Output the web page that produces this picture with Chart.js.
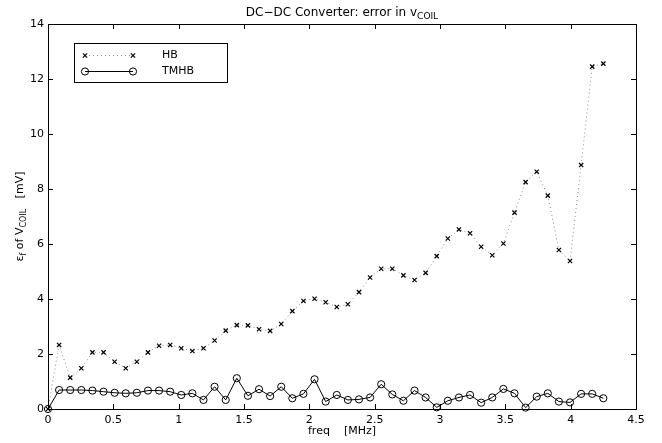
<!DOCTYPE html>
<html>
<head>
<meta charset="utf-8">
<script src="https://cdn.jsdelivr.net/npm/chart.js@4.4.0/dist/chart.umd.min.js"></script>
<style>
  html, body { margin: 0; padding: 0; background: #fff; }
</style>
</head>
<body>
<canvas id="graph" width="662" height="443"></canvas>
<script>
// freq axis in MHz, errors in mV
const freq = [0, 0.085, 0.17, 0.255, 0.34, 0.425, 0.51, 0.595, 0.68, 0.765,
  0.85, 0.935, 1.02, 1.105, 1.19, 1.275, 1.36, 1.445, 1.53, 1.615,
  1.7, 1.785, 1.87, 1.955, 2.04, 2.125, 2.21, 2.295, 2.38, 2.465,
  2.55, 2.635, 2.72, 2.805, 2.89, 2.975, 3.06, 3.145, 3.23, 3.315,
  3.4, 3.485, 3.57, 3.655, 3.74, 3.825, 3.91, 3.995, 4.08, 4.165, 4.25];

const hb = [0, 2.33, 1.14, 1.48, 2.06, 2.06, 1.72, 1.48, 1.72, 2.06,
  2.30, 2.33, 2.21, 2.11, 2.21, 2.49, 2.85, 3.05, 3.04, 2.90,
  2.84, 3.09, 3.56, 3.93, 4.01, 3.88, 3.71, 3.81, 4.25, 4.78,
  5.10, 5.10, 4.86, 4.69, 4.95, 5.56, 6.20, 6.53, 6.39, 5.90,
  5.59, 6.02, 7.14, 8.25, 8.63, 7.76, 5.78, 5.38, 8.87, 12.45, 12.56];

const tmhb = [0, 0.69, 0.69, 0.69, 0.67, 0.63, 0.59, 0.57, 0.59, 0.67,
  0.67, 0.63, 0.51, 0.57, 0.33, 0.81, 0.33, 1.12, 0.48, 0.72,
  0.47, 0.81, 0.39, 0.55, 1.08, 0.27, 0.51, 0.33, 0.35, 0.42,
  0.90, 0.53, 0.30, 0.67, 0.42, 0.06, 0.30, 0.42, 0.51, 0.23,
  0.42, 0.73, 0.57, 0.05, 0.45, 0.57, 0.27, 0.24, 0.55, 0.55, 0.39];

const seriesNames = ['HB', 'TMHB'];
const xTicks = [0, 0.5, 1, 1.5, 2, 2.5, 3, 3.5, 4, 4.5];
const yTicks = [0, 2, 4, 6, 8, 10, 12, 14];

const FONT = '"DejaVu Sans", "Liberation Sans", Arial, sans-serif';

function toPoints(ys) {
  return freq.map((f, i) => ({ x: f, y: ys[i] }));
}

// draws text made of pieces [text, size, dy]
function drawPieces(ctx, pieces, x, y, align) {
  let w = 0;
  pieces.forEach(p => {
    ctx.font = p[1] + 'px ' + FONT;
    w += ctx.measureText(p[0]).width;
  });
  let cx = align === 'center' ? x - w / 2 : x;
  pieces.forEach(p => {
    ctx.font = p[1] + 'px ' + FONT;
    ctx.fillText(p[0], cx, y + p[2]);
    cx += ctx.measureText(p[0]).width;
  });
}

const matlabAxes = {
  id: 'matlabAxes',
  afterDraw(chart) {
    const { ctx, chartArea: a } = chart;
    const xs = chart.scales.x, ys = chart.scales.y;
    ctx.save();
    ctx.strokeStyle = '#000';
    ctx.lineWidth = 1;
    ctx.setLineDash([]);
    ctx.strokeRect(Math.round(a.left) + 0.5, Math.round(a.top) + 0.5,
      Math.round(a.right - a.left), Math.round(a.bottom - a.top));

    // ticks pointing inside, on all four sides
    ctx.beginPath();
    xTicks.forEach(v => {
      const px = Math.round(xs.getPixelForValue(v)) + 0.5;
      ctx.moveTo(px, a.bottom); ctx.lineTo(px, a.bottom - 5);
      ctx.moveTo(px, a.top); ctx.lineTo(px, a.top + 5);
    });
    yTicks.forEach(v => {
      const py = Math.round(ys.getPixelForValue(v)) + 0.5;
      ctx.moveTo(a.left, py); ctx.lineTo(a.left + 5, py);
      ctx.moveTo(a.right, py); ctx.lineTo(a.right - 5, py);
    });
    ctx.stroke();

    ctx.fillStyle = '#000';
    ctx.textBaseline = 'alphabetic';
    ctx.textAlign = 'left';
    const midX = (a.left + a.right) / 2;

    // title
    drawPieces(ctx, [['DC\u2212DC Converter: error in v', 12, 0], ['COIL', 9, 3]], midX, 16, 'center');

    // x label
    drawPieces(ctx, [['freq    [MHz]', 11, 0]], midX, 434, 'center');

    // y label
    ctx.save();
    ctx.translate(23, (a.top + a.bottom) / 2);
    ctx.rotate(-Math.PI / 2);
    drawPieces(ctx, [['\u03b5', 11, 0], ['f', 8, 3], [' of V', 11, 0], ['COIL', 8, 3], ['   [mV]', 11, 0]], 0, 0, 'center');
    ctx.restore();

    // legend box
    const lx = 74, ly = 43, lw = 153, lh = 39;
    ctx.fillStyle = '#fff';
    ctx.fillRect(lx, ly, lw, lh);
    ctx.strokeRect(lx + 0.5, ly + 0.5, lw, lh);
    const rows = [55, 71];
    chart.data.datasets.forEach((ds, i) => {
      const yy = rows[i];
      ctx.strokeStyle = ds.borderColor;
      ctx.lineWidth = ds.borderWidth;
      ctx.setLineDash(ds.borderDash || []);
      ctx.beginPath();
      ctx.moveTo(85, yy + 0.5);
      ctx.lineTo(133, yy + 0.5);
      ctx.stroke();
      ctx.setLineDash([]);
      ctx.strokeStyle = '#000';
      ctx.fillStyle = 'rgba(0,0,0,0)';
      ctx.lineWidth = ds.pointBorderWidth;
      [85, 133].forEach(px => {
        Chart.helpers.drawPoint(ctx, {
          pointStyle: ds.pointStyle, radius: ds.pointRadius,
          rotation: 0, borderWidth: ds.pointBorderWidth
        }, px, yy + 0.5);
      });
      ctx.fillStyle = '#000';
      ctx.font = '11px ' + FONT;
      ctx.textBaseline = 'middle';
      ctx.fillText(ds.label, 162, yy);
      ctx.textBaseline = 'alphabetic';
    });
    ctx.restore();
  }
};

const ctx = document.getElementById('graph').getContext('2d');

new Chart(ctx, {
  type: 'line',
  data: {
    datasets: [{
      label: seriesNames[0],
      data: toPoints(hb),
      borderColor: '#8c8c8c',
      borderWidth: 1,
      borderDash: [1, 3],
      pointStyle: 'crossRot',
      pointRadius: 3,
      pointBorderColor: '#000',
      pointBorderWidth: 1.2,
      pointBackgroundColor: 'rgba(0,0,0,0)',
      tension: 0,
      fill: false,
      clip: false
    }, {
      label: seriesNames[1],
      data: toPoints(tmhb),
      borderColor: '#000',
      borderWidth: 1,
      pointStyle: 'circle',
      pointRadius: 3.6,
      pointBorderColor: '#000',
      pointBorderWidth: 1,
      pointBackgroundColor: 'rgba(0,0,0,0)',
      tension: 0,
      fill: false,
      clip: false
    }]
  },
  options: {
    responsive: false,
    animation: false,
    layout: { padding: { top: 24, right: 26, left: 0, bottom: 0 } },
    plugins: {
      legend: { display: false },
      tooltip: { enabled: false },
      title: { display: false }
    },
    scales: {
      x: {
        type: 'linear',
        min: 0,
        max: 4.5,
        afterFit(scale) { scale.height = 34; },
        afterBuildTicks(scale) { scale.ticks = xTicks.map(v => ({ value: v })); },
        grid: { display: false, drawTicks: false },
        border: { display: false },
        ticks: {
          color: '#000', padding: 5, maxRotation: 0,
          font: { family: FONT, size: 11 },
          callback: v => String(v)
        }
      },
      y: {
        min: 0,
        max: 14,
        afterFit(scale) { scale.width = 48; },
        afterBuildTicks(scale) { scale.ticks = yTicks.map(v => ({ value: v })); },
        grid: { display: false, drawTicks: false },
        border: { display: false },
        ticks: {
          color: '#000', padding: 4,
          font: { family: FONT, size: 11 },
          callback: v => String(v)
        }
      }
    }
  },
  plugins: [matlabAxes]
});
</script>
</body>
</html>
